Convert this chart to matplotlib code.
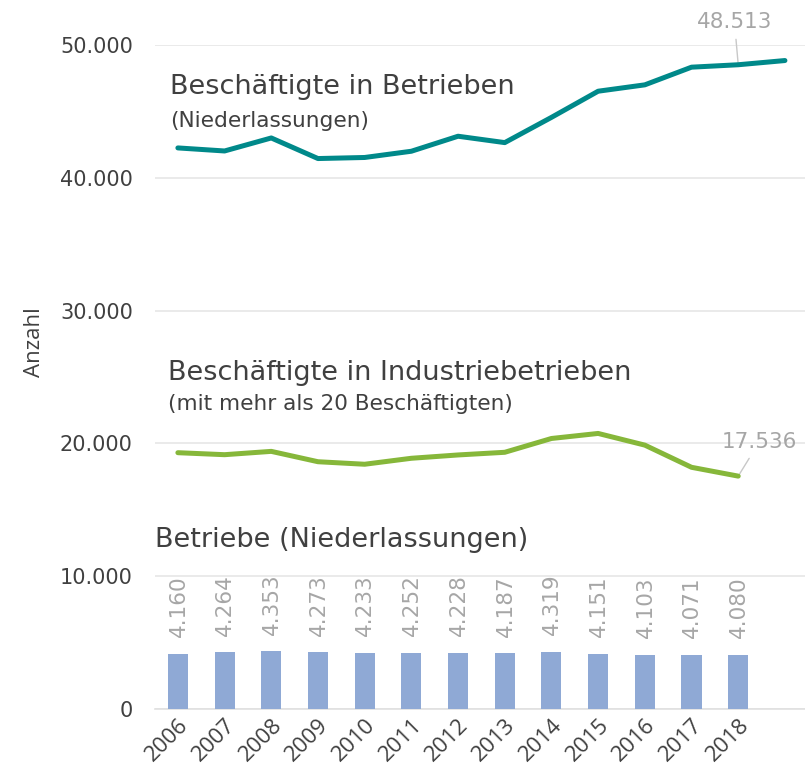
import matplotlib
matplotlib.use("Agg")
import matplotlib.pyplot as plt
from matplotlib.ticker import FuncFormatter

# data
years = ["2006", "2007", "2008", "2009", "2010", "2011", "2012",
         "2013", "2014", "2015", "2016", "2017", "2018"]
betriebe = [4160, 4264, 4353, 4273, 4233, 4252, 4228, 4187, 4319,
            4151, 4103, 4071, 4080]
beschaeftigte = [42250, 42020, 43000, 41450, 41530, 42000, 43130,
                 42650, 44550, 46520, 47000, 48330, 48513, 48830]
industrie = [19300, 19150, 19400, 18620, 18430, 18880, 19130,
             19330, 20370, 20750, 19870, 18200, 17536]

TEAL = "#00898A"
GREEN = "#86B73A"
BAR = "#8FA9D5"
GREY = "#A6A6A6"
TEXT = "#404040"
SANS = ["DejaVu Sans"]
HUMAN = ["Open Sans", "DejaVu Sans"]


def thousands(x, pos):
    return f"{x:,.0f}".replace(",", ".")


fig = plt.figure(figsize=(8.05, 7.76), dpi=100)
ax = fig.add_axes((155 / 805, 1 - 709 / 776, 650 / 805, (709 - 45) / 776))

xb = list(range(len(years)))
ax.bar(xb, betriebe, width=0.43, color=BAR, zorder=3)
for x, v in zip(xb, betriebe):
    ax.annotate(thousands(v, None), (x, v), xytext=(0.5, 12),
                textcoords="offset points", rotation=90, ha="center",
                va="bottom", color=GREY, fontsize=15.5, family=SANS)

ax.plot(range(len(beschaeftigte)), beschaeftigte, color=TEAL, lw=3.6,
        solid_capstyle="round", solid_joinstyle="round", zorder=4)
ax.plot(range(len(industrie)), industrie, color=GREEN, lw=3.6,
        solid_capstyle="round", solid_joinstyle="round", zorder=4)

ax.annotate(thousands(beschaeftigte[12], None), (12, beschaeftigte[12]),
            xytext=(11.92, 50950), ha="center", va="bottom", color=GREY,
            fontsize=15.5, family=SANS, annotation_clip=False,
            arrowprops=dict(arrowstyle="-", color="#C8C8C8", lw=1,
                            shrinkA=3, shrinkB=1))
ax.annotate(thousands(industrie[12], None), (12, industrie[12]),
            xytext=(12.45, 19350), ha="center", va="bottom", color=GREY,
            fontsize=15.5, family=SANS, annotation_clip=False,
            arrowprops=dict(arrowstyle="-", color="#C8C8C8", lw=1,
                            shrinkA=3, shrinkB=2))

# series captions
ax.text(-0.17, 46310, "Beschäftigte in Betrieben", fontsize=19.5,
        family=SANS, color=TEXT)
ax.text(-0.17, 43830, "(Niederlassungen)", fontsize=15.6,
        family=SANS, color=TEXT)
ax.text(-0.21, 24770, "Beschäftigte in Industriebetrieben", fontsize=19.5,
        family=SANS, color=TEXT)
ax.text(-0.21, 22520, "(mit mehr als 20 Beschäftigten)", fontsize=15.6,
        family=SANS, color=TEXT)
ax.text(-0.49, 12200, "Betriebe (Niederlassungen)", fontsize=19.5,
        family=SANS, color=TEXT)

ax.set_xlim(-0.49, 13.43)
ax.set_ylim(0, 50000)
ax.set_yticks(range(0, 50001, 10000))
ax.yaxis.set_major_formatter(FuncFormatter(thousands))
ax.set_xticks(xb)
ax.set_xticklabels(years, rotation=45, ha="right", rotation_mode="anchor",
                   fontsize=16, family=HUMAN, color=TEXT)
ax.tick_params(axis="y", length=0, pad=16, labelsize=15, labelcolor=TEXT)
for lab in ax.get_yticklabels():
    lab.set_family(SANS)
ax.tick_params(axis="x", length=0, pad=4)
ax.set_ylabel("Anzahl", fontsize=16, family=HUMAN, color=TEXT)
ax.yaxis.set_label_coords(-0.169, 0.553)

ax.grid(True, axis="y", color="#E6E6E6", lw=1.2, zorder=0)
for s in ["top", "right", "left"]:
    ax.spines[s].set_visible(False)
ax.spines["bottom"].set_color("#E0E0E0")
ax.spines["bottom"].set_linewidth(1.2)

fig.savefig("out.png", dpi=100)
